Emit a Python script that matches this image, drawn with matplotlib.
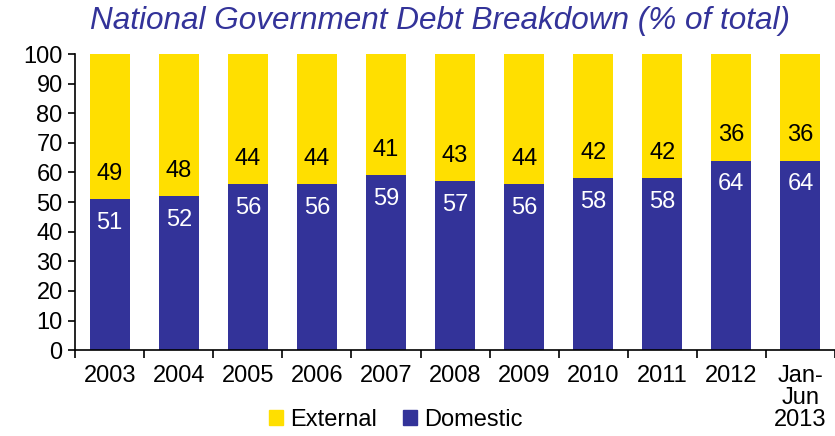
import matplotlib
matplotlib.use('Agg')
import numpy as np
from matplotlib import pyplot as plt
from matplotlib.patches import Patch

plt.rcParams['font.family'] = ['Liberation Sans', 'DejaVu Sans']

years = ['2003', '2004', '2005', '2006', '2007', '2008', '2009', '2010',
         '2011', '2012', 'Jan-\nJun\n2013']
domestic = [51, 52, 56, 56, 59, 57, 56, 58, 58, 64, 64]
external = [49, 48, 44, 44, 41, 43, 44, 42, 42, 36, 36]

blue = '#333399'
yellow = '#FFDF00'

fig = plt.figure(figsize=(8.35, 4.36), dpi=100)
ax = fig.add_axes([0.09, 0.197, 0.91, 0.679])

x = np.arange(len(years))
ax.bar(x, domestic, width=0.58, color=blue)
ax.bar(x, external, width=0.58, bottom=domestic, color=yellow)

# labels sit just inside each segment near the boundary
for i in range(len(years)):
    ax.text(x[i], domestic[i] - 8, str(domestic[i]), ha='center', va='center',
            color='white', fontsize=17)
    ax.text(x[i], domestic[i] + 8.5, str(external[i]), ha='center', va='center',
            color='black', fontsize=17)

ax.set_xlim(-0.5, len(years) - 0.5)
ax.set_ylim(0, 100)
ax.set_yticks(range(0, 101, 10))
ax.set_xticks(x)
ax.set_xticklabels(years, fontsize=17, va='top', linespacing=1.0)
ax.set_xticks(np.arange(-0.5, len(years), 1), minor=True)
ax.tick_params(axis='x', which='major', length=0, pad=11)
ax.tick_params(axis='x', which='minor', length=6, direction='out', width=1.2)
ax.tick_params(axis='y', labelsize=17, length=5, width=1.2, pad=4)
for s in ['top', 'right']:
    ax.spines[s].set_visible(False)
ax.spines['left'].set_linewidth(1.2)
ax.spines['bottom'].set_linewidth(1.2)

fig.text(0.527, 0.952, 'National Government Debt Breakdown (% of total)',
         ha='center', va='center', fontsize=22.7, style='italic', color=blue)

handles = [Patch(color=yellow), Patch(color=blue)]
fig.legend(handles, ['External', 'Domestic'], loc='center', ncol=2,
           bbox_to_anchor=(0.474, 0.037), frameon=False, fontsize=17,
           handlelength=0.6, handleheight=0.6, handletextpad=0.3,
           columnspacing=1.1, borderpad=0)

plt.savefig('out.png', dpi=100)
